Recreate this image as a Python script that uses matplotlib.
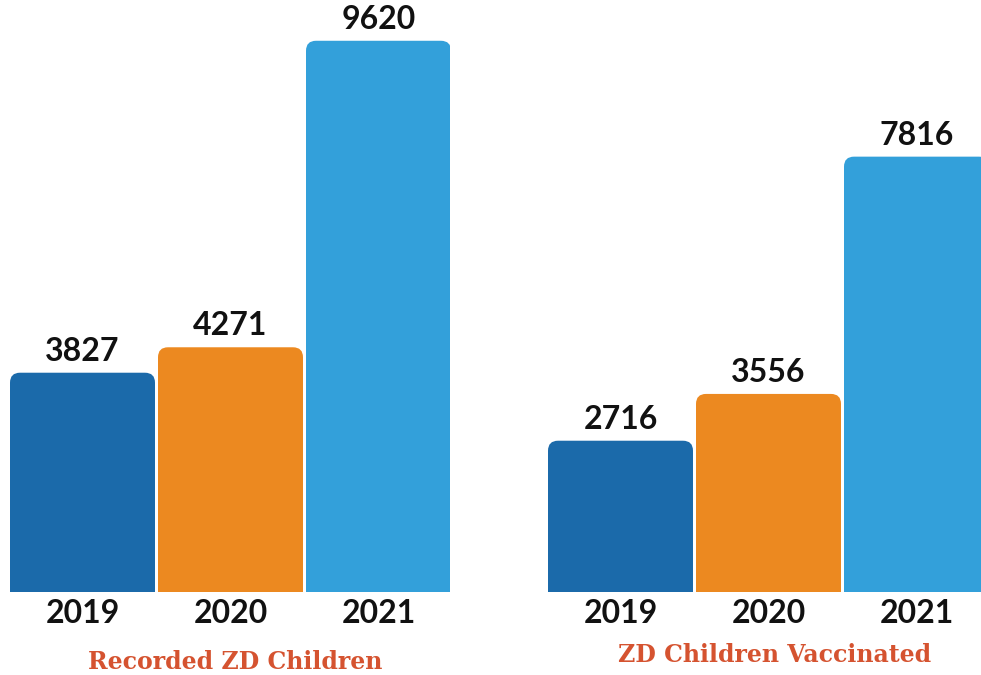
import matplotlib
matplotlib.use("Agg")
import matplotlib.pyplot as plt
from matplotlib.patches import FancyBboxPatch

years = ["2019", "2020", "2021"]
recorded = [3827, 4271, 9620]
vaccinated = [2716, 3556, 7816]
titles = ["Recorded ZD Children", "ZD Children Vaccinated"]
colors = ["#1B6AAA", "#EC8920", "#33A0DA"]

W, H = 981, 675
fig = plt.figure(figsize=(W / 100, H / 100), dpi=100)

STEP = 148.0   # px per category
BAR_W = 145.0 / STEP
BASE = 592     # baseline y px from top


def panel(x0_px, width_px, values, px_per_unit, title, title_x, title_y):
    ax = fig.add_axes([x0_px / W, (H - BASE) / H, width_px / W, BASE / H])
    ymax = BASE / px_per_unit
    ax.set_ylim(0, ymax)
    x_lo = -BAR_W / 2
    ax.set_xlim(x_lo, x_lo + width_px / STEP)
    ax.axis("off")
    xs = list(range(len(values)))
    bars = ax.bar(xs, values, width=BAR_W, color=colors)
    x_per_px = 1.0 / STEP
    y_per_px = ymax / BASE
    aspect = y_per_px / x_per_px
    r = 10 * x_per_px
    for b, c in zip(bars, colors):
        x, y = b.get_x(), b.get_y()
        w, h = b.get_width(), b.get_height()
        b.remove()
        ext = 20 * y_per_px
        p = FancyBboxPatch((x, y - ext), w, h + ext,
                           boxstyle=f"round,pad=0,rounding_size={r}",
                           mutation_aspect=aspect, facecolor=c,
                           edgecolor="none", clip_on=True)
        ax.add_patch(p)
    for x, v in zip(xs, values):
        ax.annotate(f"{v}", (x, v), xytext=(0, 8.5), textcoords="offset points",
                    ha="center", va="baseline", fontsize=23,
                    fontweight="bold", family="Lato", color="#111111",
                    annotation_clip=False)
        ax.annotate(years[x], (x, 0), xytext=(0, -22.5), textcoords="offset points",
                    ha="center", va="baseline", fontsize=23,
                    fontweight="bold", family="Lato", color="#111111",
                    annotation_clip=False)
    fig.text(title_x / W, 1 - title_y / H, title, ha="center", va="center",
             fontsize=17, fontweight="bold", family="DejaVu Serif",
             color="#D55330")
    return ax


panel(10, 440, recorded, 0.0573, titles[0], 235, 662)
panel(548, 445, vaccinated, 0.0557, titles[1], 775, 655)

fig.savefig("out.png", dpi=100)
